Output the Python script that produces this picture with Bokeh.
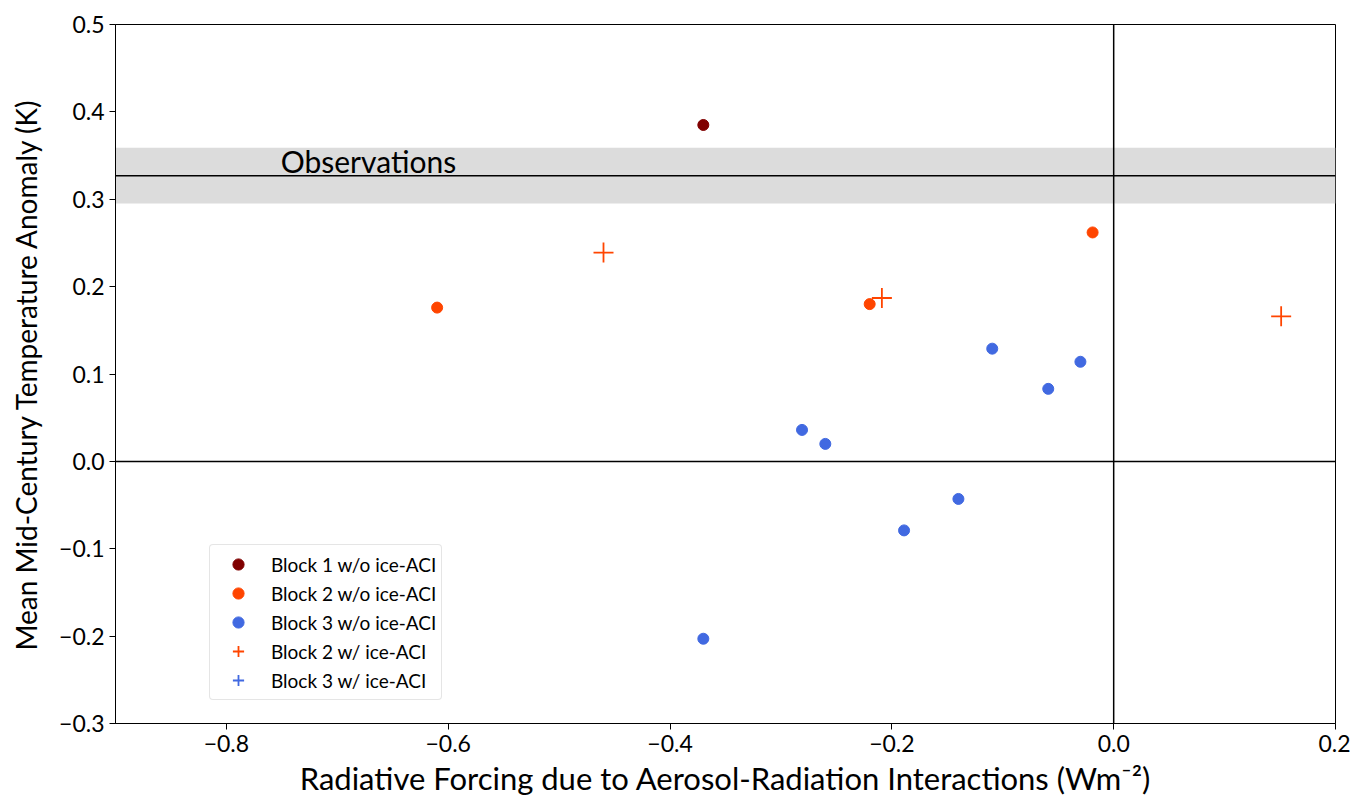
from bokeh.plotting import figure
from bokeh.models import Span, BoxAnnotation, Legend, LegendItem, CustomJSTickFormatter, FixedTicker, Label
from bokeh.embed import file_html
from bokeh.resources import INLINE

nan = float("nan")

# Data
b1_x = [-0.37]
b1_y = [0.385]
b2_x = [-0.61, -0.22, -0.019]
b2_y = [0.176, 0.180, 0.262]
b3_x = [-0.37, -0.281, -0.26, -0.189, -0.14, -0.1095, -0.059, -0.030]
b3_y = [-0.203, 0.036, 0.020, -0.079, -0.043, 0.129, 0.083, 0.114]
b2i_x = [-0.46, -0.209, 0.151]
b2i_y = [0.239, 0.187, 0.166]
b3i_x = [nan]   # no visible points in this series
b3i_y = [nan]
obs_mean = 0.327
obs_low = 0.295
obs_high = 0.359
x_ticks = [-0.8, -0.6, -0.4, -0.2, 0.0, 0.2]
y_ticks = [-0.3, -0.2, -0.1, 0.0, 0.1, 0.2, 0.3, 0.4, 0.5]

FONT = "Lato"

p = figure(x_range=(-0.9, 0.2), y_range=(-0.3, 0.5),
           frame_width=1220, frame_height=699,
           min_border_left=115, min_border_top=24, min_border_right=15, min_border_bottom=70,
           output_backend="svg", toolbar_location=None)
p.grid.visible = False
p.outline_line_color = "black"
p.outline_line_width = 1
p.background_fill_color = "white"
p.border_fill_color = "white"

fmt = CustomJSTickFormatter(code="return tick.toFixed(1).replace('-', '\u2212');")
for ax, ticks in ((p.xaxis, x_ticks), (p.yaxis, y_ticks)):
    ax.ticker = FixedTicker(ticks=ticks)
    ax.formatter = fmt
    ax.major_label_text_font = FONT
    ax.major_label_text_font_size = "23px"
    ax.major_label_text_color = "black"
    ax.axis_label_text_font = FONT
    ax.axis_label_text_font_style = "normal"
    ax.axis_label_text_color = "black"
    ax.minor_tick_line_color = None
    ax.major_tick_out = 6
    ax.major_tick_in = 0
    ax.axis_line_color = "black"
    ax.major_tick_line_color = "black"
    ax.major_label_standoff = 5
p.xaxis.axis_label = "Radiative Forcing due to Aerosol-Radiation Interactions (Wm\u207b\u00b2)"
p.yaxis.axis_label = "Mean Mid-Century Temperature Anomaly (K)"
p.xaxis.axis_label_text_font_size = "31px"
p.yaxis.axis_label_text_font_size = "28px"
p.xaxis.axis_label_standoff = 4
p.yaxis.axis_label_standoff = 13

band = BoxAnnotation(bottom=obs_low, top=obs_high, fill_color="#dcdcdc", fill_alpha=1.0, line_color=None, level="underlay")
p.add_layout(band)
p.add_layout(Span(location=obs_mean, dimension="width", line_color="black", line_width=1.5))
p.add_layout(Span(location=0.0, dimension="width", line_color="black", line_width=1.5))
p.add_layout(Span(location=0.0, dimension="height", line_color="black", line_width=1.5))
p.add_layout(Label(x=-0.751, y=obs_mean + 0.017, text="Observations", text_font=FONT,
                   text_font_size="30px", text_color="black", text_baseline="alphabetic"))

r1 = p.scatter(b1_x, b1_y, marker="circle", size=11, fill_color="#800000", line_color="#800000")
r2 = p.scatter(b2_x, b2_y, marker="circle", size=11, fill_color="#ff4500", line_color="#ff4500")
r3 = p.scatter(b3_x, b3_y, marker="circle", size=11, fill_color="#4169e1", line_color="#4169e1")
r4 = p.scatter(b2i_x, b2i_y, marker="cross", size=20, line_color="#ff4500", line_width=1.8)
r5 = p.scatter(b3i_x, b3i_y, marker="cross", size=20, line_color="#4169e1", line_width=1.8)

legend = Legend(items=[
    LegendItem(label="Block 1 w/o ice-ACI", renderers=[r1]),
    LegendItem(label="Block 2 w/o ice-ACI", renderers=[r2]),
    LegendItem(label="Block 3 w/o ice-ACI", renderers=[r3]),
    LegendItem(label="Block 2 w/ ice-ACI", renderers=[r4]),
    LegendItem(label="Block 3 w/ ice-ACI", renderers=[r5]),
], location=(94, 23))
legend.label_text_font = FONT
legend.label_text_font_size = "19px"
legend.label_text_color = "black"
legend.border_line_color = "#cccccc"
legend.border_radius = 4
legend.background_fill_alpha = 0.8
legend.glyph_width = 46
legend.glyph_height = 28
legend.label_height = 28
legend.spacing = 1
legend.padding = 5
legend.margin = 0
legend.label_standoff = 10
p.add_layout(legend)

open("out.html", "w").write(file_html(p, INLINE))
